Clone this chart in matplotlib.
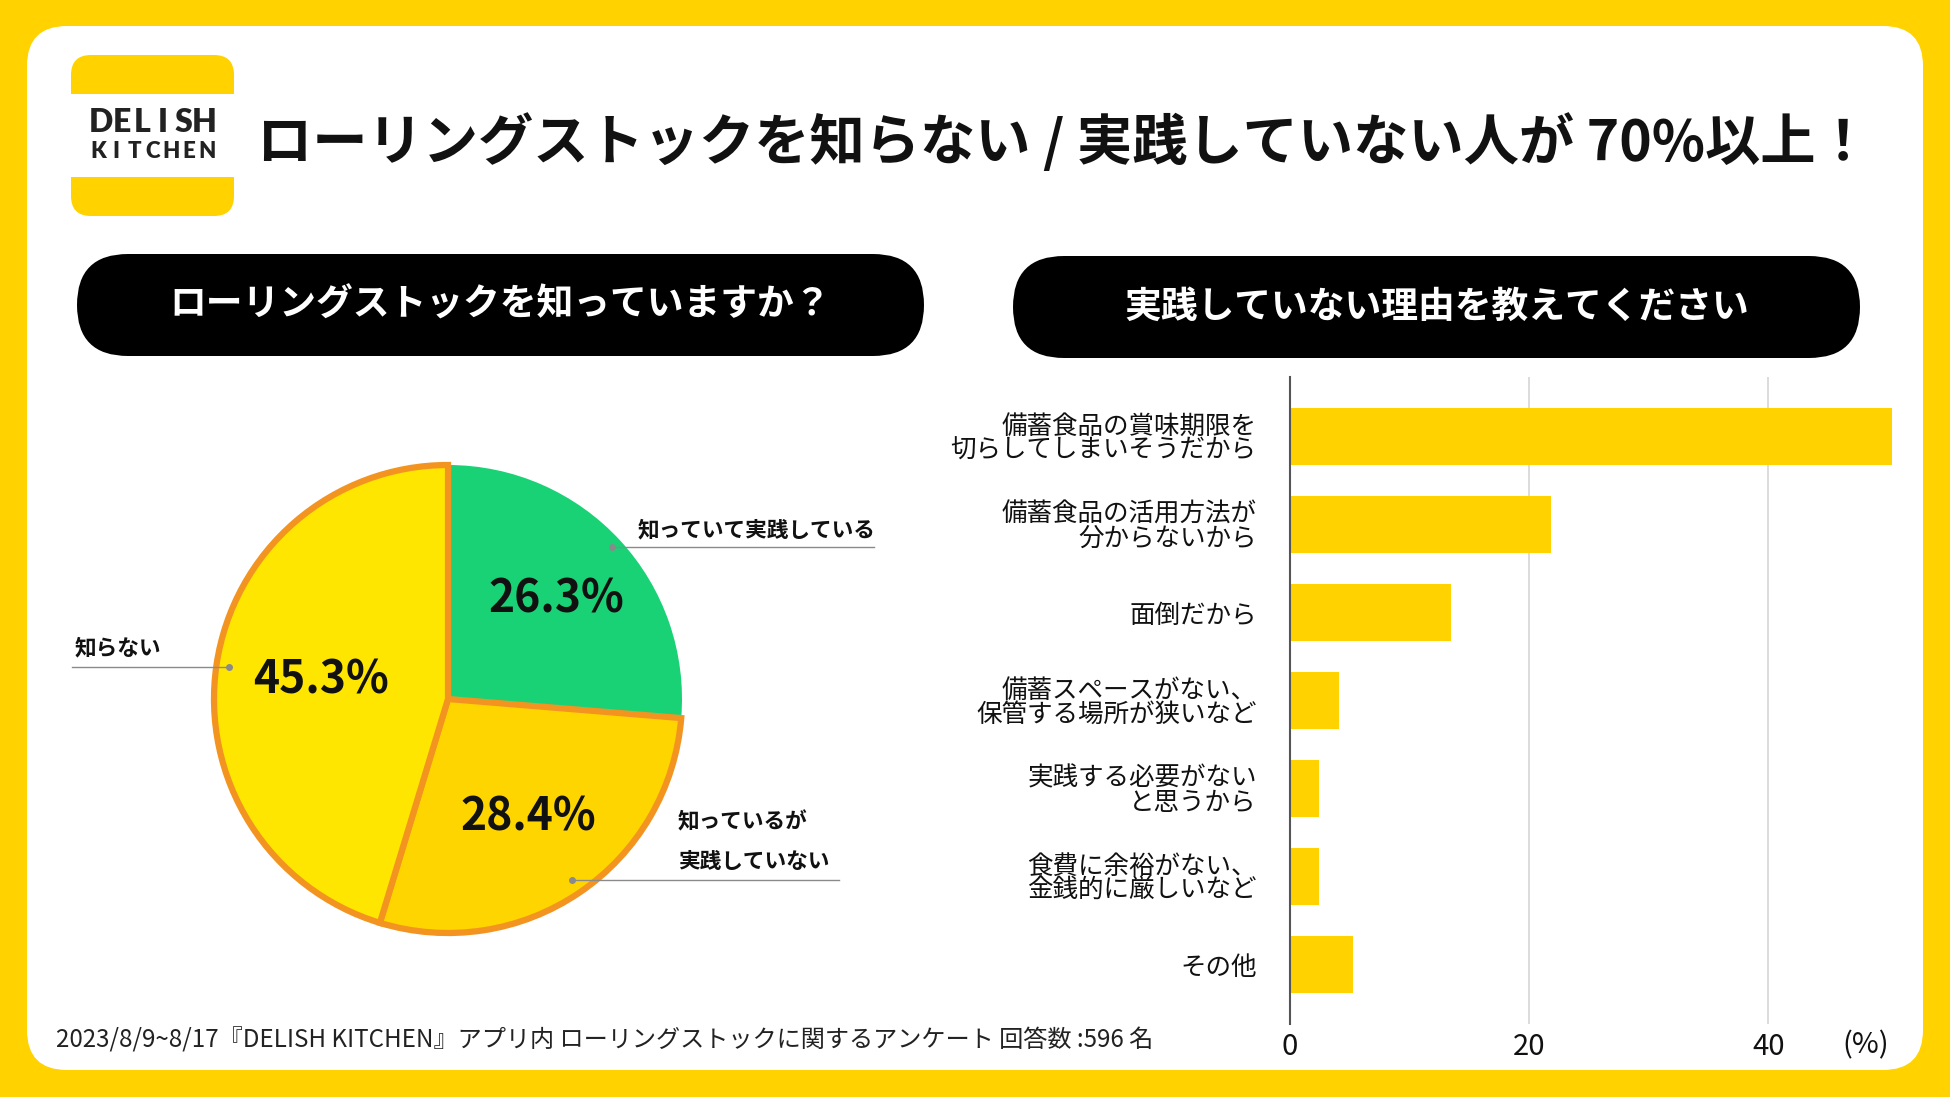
import numpy as np
import matplotlib
matplotlib.use("Agg")
import matplotlib.pyplot as plt
from matplotlib.patches import FancyBboxPatch, Rectangle

plt.rcParams['font.family'] = ['Noto Sans CJK JP', 'DejaVu Sans']

W, H = 1950, 1097

# data
pie_labels = ['知っていて実践している', '知っているが\n実践していない', '知らない']
pie_values = [26.3, 28.4, 45.3]
pie_colors = ['#1ad276', '#ffd500', '#ffe600']

reasons = ['備蓄食品の賞味期限を\n切らしてしまいそうだから',
           '備蓄食品の活用方法が\n分からないから',
           '面倒だから',
           '備蓄スペースがない、\n保管する場所が狭いなど',
           '実践する必要がない\nと思うから',
           '食費に余裕がない、\n金銭的に厳しいなど',
           'その他']
reason_values = [50.3, 21.8, 13.5, 4.1, 2.4, 2.4, 5.3]
x_ticks = [0, 20, 40]

YELLOW = '#ffd200'
ORANGE = '#f39420'

fig = plt.figure(figsize=(W / 100, H / 100), dpi=100)
fig.patch.set_facecolor(YELLOW)

# background axes in pixel coords
bg = fig.add_axes([0, 0, 1, 1])
bg.set_xlim(0, W)
bg.set_ylim(H, 0)
bg.axis('off')

bg.add_patch(FancyBboxPatch((27 + 40, 26 + 40), 1896 - 80, 1044 - 80,
                            boxstyle='round,pad=40', fc='white', ec='none'))

# logo
bg.add_patch(FancyBboxPatch((71 + 20, 55 + 20), 163 - 40, 161 - 40,
                            boxstyle='round,pad=20', fc=YELLOW, ec='none'))
bg.add_patch(Rectangle((71, 94), 163, 83, fc='white', ec='none'))
for s, y, fs, x0, x1 in [('DELISH', 123, 23, 101, 204), ('KITCHEN', 152, 16, 98, 207)]:
    xs = np.linspace(x0, x1, len(s))
    for ch, x in zip(s, xs):
        bg.text(x, y, ch, fontsize=fs, fontweight='heavy', color='#222222',
                ha='center', va='center', family=['Lato', 'DejaVu Sans'])

bg.text(257, 143, 'ローリングストックを知らない / 実践していない人が 70%以上！',
        fontsize=39.8, fontweight='bold', color='#111111', ha='left', va='center')

# section headers
for x0, x1, y0, y1, txt in [(77, 924, 254, 356, 'ローリングストックを知っていますか？'),
                            (1013, 1860, 256, 358, '実践していない理由を教えてください')]:
    r = (y1 - y0) / 2
    bg.add_patch(FancyBboxPatch((x0 + r, y0 + r), x1 - x0 - 2 * r, 0.001,
                                boxstyle='round,pad=%f' % r, fc='black', ec='none',
                                mutation_aspect=1))
    bg.text((x0 + x1) / 2, (y0 + y1) / 2, txt, fontsize=26.5, fontweight='bold',
            color='white', ha='center', va='center')

# pie
cx, cy, R = 448, 699, 234
pad = 1.07
pax = fig.add_axes([(cx - R * pad) / W, (H - cy - R * pad) / H, 2 * R * pad / W, 2 * R * pad / H])
wedges, texts, autotexts = pax.pie(pie_values, colors=pie_colors, startangle=90, counterclock=False,
                                   autopct='%.1f%%', pctdistance=0.6,
                                   wedgeprops=dict(linewidth=4.5, edgecolor=ORANGE),
                                   textprops=dict(fontsize=32, fontweight='bold', color='#111111'))
wedges[0].set_edgecolor('none')
wedges[0].set_zorder(0)
pax.set_xlim(-pad, pad)
pax.set_ylim(-pad, pad)
pax.set_aspect('equal')
for t, d in zip(autotexts, [0.63, 0.61, 0.55]):
    x, y = t.get_position()
    r0 = np.hypot(x, y)
    t.set_position((x / r0 * d, y / r0 * d))

# overlay for pie outside labels with leader lines
ov = fig.add_axes([0, 0, 1, 1])
ov.set_xlim(0, W)
ov.set_ylim(H, 0)
ov.axis('off')
ov.patch.set_alpha(0)

lbl_fs = 15.6
lc = '#8a8a8a'
ov.text(638, 530, pie_labels[0], fontsize=lbl_fs, fontweight='bold', color='#111111', va='center')
ov.plot([612, 874], [547, 547], color=lc, lw=1)
ov.plot(612, 547, 'o', ms=4, color=lc)
ov.text(678, 822, pie_labels[1].split('\n')[0], fontsize=lbl_fs, fontweight='bold', color='#111111', va='center')
ov.text(678, 861, pie_labels[1].split('\n')[1], fontsize=lbl_fs, fontweight='bold', color='#111111', va='center')
ov.plot([572, 839], [880, 880], color=lc, lw=1)
ov.plot(572, 880, 'o', ms=4, color=lc)
ov.text(75, 648, pie_labels[2], fontsize=lbl_fs, fontweight='bold', color='#111111', va='center')
ov.plot([72, 229], [667, 667], color=lc, lw=1)
ov.plot(229, 667, 'o', ms=4, color=lc)

# bar chart
bx0, bx1, by0, by1 = 1290, 1900, 377, 1024
ax = fig.add_axes([bx0 / W, (H - by1) / H, (bx1 - bx0) / W, (by1 - by0) / H])
ypos = np.arange(len(reasons))
ax.barh(ypos, reason_values, height=0.65, color=YELLOW, zorder=3)
ax.set_xlim(0, 51)
ax.set_ylim(len(reasons) - 1 + 0.676, -0.676)
ax.set_yticks(ypos)
ax.set_yticklabels(reasons, fontsize=18.4, color='#111111', linespacing=0.92)
for t in ax.get_yticklabels():
    t.set_multialignment('right')
ax.set_xticks(x_ticks)
ax.set_xticklabels([str(v) for v in x_ticks], fontsize=21, color='#111111')
ax.tick_params(axis='y', length=0, pad=24)
ax.tick_params(axis='x', length=0, pad=6)
ax.grid(axis='x', color='#d6d6d6', lw=1.2, zorder=0)
for s in ['top', 'right', 'bottom']:
    ax.spines[s].set_visible(False)
ax.spines['left'].set_color('#555555')
ax.spines['left'].set_linewidth(1.5)
ax.spines['left'].set_zorder(4)
ax.set_facecolor('none')
ov.text(1866, 1045, '(%)', fontsize=21, color='#111111', ha='center', va='center')

# footer
ov.text(56, 1040, '2023/8/9~8/17『DELISH KITCHEN』アプリ内 ローリングストックに関するアンケート 回答数 :596 名',
        fontsize=17.4, color='#222222', ha='left', va='center')

fig.savefig('out.png', dpi=100, facecolor=YELLOW)
